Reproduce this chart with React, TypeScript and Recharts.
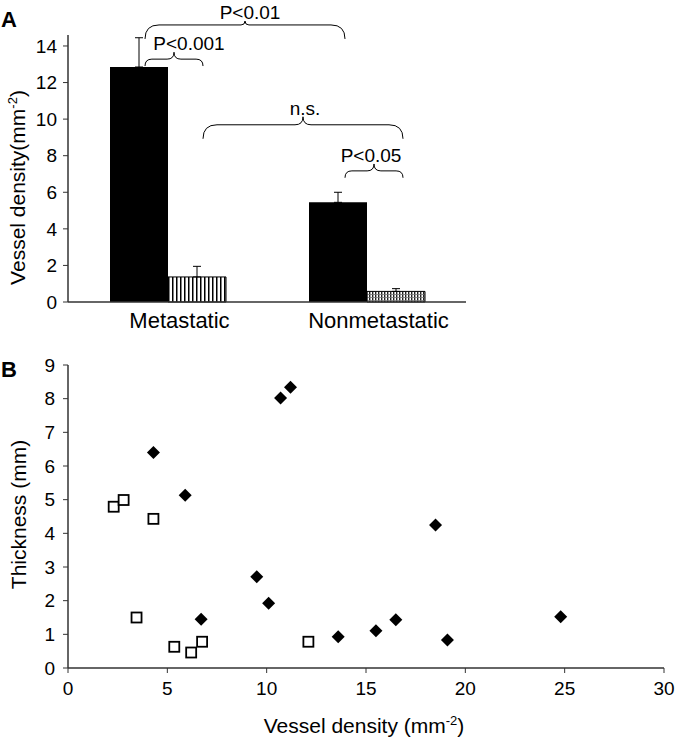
import React from "react";
import {
  Bar,
  BarChart,
  Cell,
  ErrorBar,
  Scatter,
  ScatterChart,
  XAxis,
  YAxis,
} from "recharts";

const groups = ["Metastatic", "Nonmetastatic"];
const primaryDensity = [12.85, 5.45];
const primaryError = [1.6, 0.55];
const controlDensity = [1.37, 0.58];
const controlError = [0.58, 0.15];

// brackets between bars: [group, series], level in mm-2
const comparisons = [
  { label: "P<0.01", from: [0, 0], to: [1, 0], level: 15.15 },
  { label: "P<0.001", from: [0, 0], to: [0, 1], level: 13.28 },
  { label: "n.s.", from: [0, 1], to: [1, 1], level: 9.69 },
  { label: "P<0.05", from: [1, 0], to: [1, 1], level: 7.17 },
];

const metastaticX = [4.3, 5.9, 6.7, 9.5, 10.1, 10.7, 11.2, 13.6, 15.5, 16.5, 18.5, 19.1, 24.8];
const metastaticY = [6.4, 5.13, 1.45, 2.71, 1.92, 8.02, 8.34, 0.93, 1.11, 1.43, 4.25, 0.83, 1.52];
const nonmetastaticX = [2.3, 2.8, 4.3, 3.45, 5.35, 6.2, 6.75, 12.1];
const nonmetastaticY = [4.79, 4.99, 4.43, 1.5, 0.63, 0.46, 0.78, 0.78];

const densityTicks = [0, 2, 4, 6, 8, 10, 12, 14];
const scatterXTicks = [0, 5, 10, 15, 20, 25, 30];
const thicknessTicks = [0, 1, 2, 3, 4, 5, 6, 7, 8, 9];

const FONT = '"Liberation Sans", Arial, sans-serif';
const AXIS = "#333";
const CAT_GAP = 42;
const labelNudge: Record<string, number> = { "P<0.001": 15, "P<0.01": 5, "n.s.": 2, "P<0.05": -3 };

const barData = groups.map((g, i) => ({
  group: g,
  primary: primaryDensity[i],
  primaryErr: [0, primaryError[i]],
  control: controlDensity[i],
  controlErr: [0, controlError[i]],
}));

const metastatic = metastaticX.map((x, i) => ({ x, y: metastaticY[i] }));
const nonmetastatic = nonmetastaticX.map((x, i) => ({ x, y: nonmetastaticY[i] }));

const renderBraces = (props: any) => {
  const vb = props.viewBox ?? props;
  const value = typeof props.value === "number" ? props.value : primaryDensity[0];
  const idx = props.index ?? (Math.abs(value - primaryDensity[0]) < 1e-6 ? 0 : 1);
  if (idx !== 0) return null;
  const { x, y, width, height } = vb;
  const unit = height / value;
  const base = y + height;
  const band = 2 * width + 2 * CAT_GAP;
  const centre = (p: number[]) => x + width / 2 + p[0] * band + p[1] * width + 6;
  return (
    <g>
      {comparisons.map((c) => {
        const x1 = centre(c.from);
        const x2 = centre(c.to);
        const yy = base - c.level * unit;
        const drop = Math.min(14, 4 + (x2 - x1) * 0.05);
        const tip = Math.max(3, Math.min(drop, 8, yy - 21));
        const mid = (x1 + x2) / 2;
        const d = `M${x1},${yy + drop} Q${x1},${yy} ${x1 + drop},${yy} L${mid - tip},${yy} Q${mid},${yy} ${mid},${yy - tip} Q${mid},${yy} ${mid + tip},${yy} L${x2 - drop},${yy} Q${x2},${yy} ${x2},${yy + drop}`;
        return (
          <g key={c.label}>
            <path d={d} fill="none" stroke="#000" strokeWidth={1} />
            <text x={mid + (labelNudge[c.label] ?? 0)} y={Math.max(yy - tip - 2, 19)} textAnchor="middle" fontSize={19} fill="#000" fontFamily={FONT}>
              {c.label}
            </text>
          </g>
        );
      })}
    </g>
  );
};

const verticalTitle = (main: string, sup: string | null, tail: string, dx: number, dy: number, size: number) =>
  (props: any) => {
    const vb = props.viewBox;
    const cx = vb.x + dx;
    const cy = vb.y + vb.height / 2 + dy;
    return (
      <text x={cx} y={cy} transform={`rotate(-90 ${cx} ${cy})`} textAnchor="middle" fontSize={size} fill="#000" fontFamily={FONT}>
        {main}
        {sup && (
          <tspan dy={-8} fontSize={13}>
            {sup}
          </tspan>
        )}
        <tspan dy={sup ? 8 : 0}>{tail}</tspan>
      </text>
    );
  };

const bottomTitle = (props: any) => {
  const vb = props.viewBox;
  const cx = vb.x + vb.width / 2 - 2;
  const cy = vb.y + 65;
  return (
    <text x={cx} y={cy} textAnchor="middle" fontSize={21} fill="#000" fontFamily={FONT}>
      Vessel density (mm
      <tspan dy={-8} fontSize={13}>
        -2
      </tspan>
      <tspan dy={8}>)</tspan>
    </text>
  );
};

const Diamond = (props: any) => {
  const { cx, cy } = props;
  const r = 6.5;
  return <polygon points={`${cx},${cy - r} ${cx + r},${cy} ${cx},${cy + r} ${cx - r},${cy}`} fill="#000" />;
};

const OpenSquare = (props: any) => {
  const { cx, cy } = props;
  return <rect x={cx - 5} y={cy - 5} width={10} height={10} fill="#fff" stroke="#000" strokeWidth={1.8} />;
};

const tickStyle = { fontSize: 19, fill: "#000", fontFamily: FONT };

const App = () => {
  return (
    <div style={{ position: "absolute", left: 0, top: 0, width: 678, height: 737, fontFamily: FONT, background: "#fff" }}>
      <div style={{ position: "absolute", left: 1, top: 9, fontSize: 22, fontWeight: "bold", lineHeight: 1 }}>A</div>
      <div style={{ position: "absolute", left: 1, top: 359, fontSize: 22, fontWeight: "bold", lineHeight: 1 }}>B</div>

      <div style={{ position: "absolute", left: 0, top: 0 }}>
        <BarChart
          width={678}
          height={340}
          data={barData}
          margin={{ top: 35, right: 212, bottom: 0, left: 0 }}
          barGap={0}
          barCategoryGap={CAT_GAP}
        >
          <defs>
            <pattern id="stripes" width={4} height={4} patternUnits="userSpaceOnUse">
              <rect width={4} height={4} fill="#fff" />
              <rect width={1.5} height={4} fill="#000" />
            </pattern>
            <pattern id="stripesDense" width={3} height={3} patternUnits="userSpaceOnUse">
              <rect width={3} height={3} fill="#fff" />
              <rect width={1.4} height={3} fill="#222" />
              <rect width={3} height={0.8} fill="#777" />
            </pattern>
          </defs>
          <XAxis
            dataKey="group"
            height={38}
            tickLine={false}
            tickSize={0}
            tickMargin={10}
            interval={0}
            axisLine={{ stroke: AXIS, strokeWidth: 1.5 }}
            tick={{ ...tickStyle, fontSize: 22, dx: 12 }}
          />
          <YAxis
            domain={[0, 14.6]}
            ticks={densityTicks}
            interval={0}
            width={68}
            tickSize={5}
            tickMargin={6}
            axisLine={{ stroke: AXIS, strokeWidth: 1.5 }}
            tickLine={{ stroke: AXIS }}
            tick={tickStyle}
            label={verticalTitle("Vessel density(mm", "-2", ")", 25, 19, 21)}
          />
          <Bar dataKey="primary" fill="#000" isAnimationActive={false} label={renderBraces}>
            <ErrorBar dataKey="primaryErr" width={4} stroke="#000" strokeWidth={1} />
          </Bar>
          <Bar dataKey="control" stroke="#000" strokeWidth={1} isAnimationActive={false}>
            {barData.map((d, i) => (
              <Cell key={d.group} fill={i === 0 ? "url(#stripes)" : "url(#stripesDense)"} />
            ))}
            <ErrorBar dataKey="controlErr" width={4} stroke="#000" strokeWidth={1} />
          </Bar>
        </BarChart>
      </div>

      <div style={{ position: "absolute", left: 0, top: 340 }}>
        <ScatterChart width={678} height={397} margin={{ top: 25, right: 14, bottom: 0, left: 0 }}>
          <XAxis
            type="number"
            dataKey="x"
            domain={[0, 30]}
            ticks={scatterXTicks}
            interval={0}
            height={69}
            tickSize={5}
            tickMargin={9}
            axisLine={{ stroke: AXIS, strokeWidth: 1.5 }}
            tickLine={{ stroke: AXIS }}
            tick={tickStyle}
            label={bottomTitle}
          />
          <YAxis
            type="number"
            dataKey="y"
            domain={[0, 9]}
            ticks={thicknessTicks}
            interval={0}
            width={68}
            tickSize={5}
            tickMargin={8}
            axisLine={{ stroke: AXIS, strokeWidth: 1.5 }}
            tickLine={{ stroke: AXIS }}
            tick={tickStyle}
            label={verticalTitle("Thickness (mm)", null, "", 26, -2, 21)}
          />
          <Scatter data={metastatic} shape={Diamond} isAnimationActive={false} />
          <Scatter data={nonmetastatic} shape={OpenSquare} isAnimationActive={false} />
        </ScatterChart>
      </div>
    </div>
  );
};

export default App;
